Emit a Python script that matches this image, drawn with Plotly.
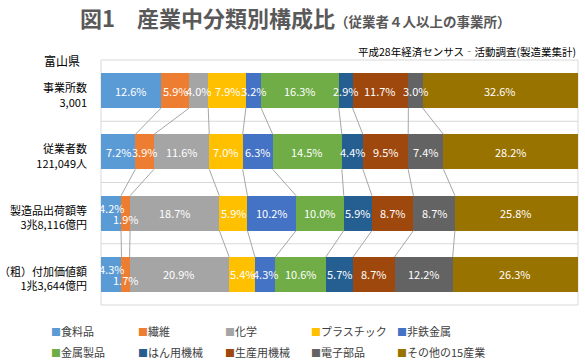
import plotly.graph_objects as go

categories = ["事業所数", "従業者数", "製造品出荷額等", "付加価値額"]
row_labels = [
    "事業所数<br>3,001",
    "従業者数<br>121,049人",
    "製造品出荷額等<br>3兆8,116億円",
    "（粗）付加価値額<br>1兆3,644億円",
]
series_names = ["食料品", "繊維", "化学", "プラスチック", "非鉄金属",
                "金属製品", "はん用機械", "生産用機械", "電子部品", "その他の15産業"]
colors = ["#5B9BD5", "#ED7D31", "#A5A5A5", "#FFC000", "#4472C4",
          "#70AD47", "#255E91", "#9E480E", "#636363", "#997300"]

shokuryo = [12.6, 7.2, 4.2, 4.3]
seni = [5.9, 3.9, 1.9, 1.7]
kagaku = [4.0, 11.6, 18.7, 20.9]
plastic = [7.9, 7.0, 5.9, 5.4]
hitetsu = [3.2, 6.3, 10.2, 4.3]
kinzoku = [16.3, 14.5, 10.0, 10.6]
hanyo = [2.9, 4.4, 5.9, 5.7]
seisan = [11.7, 9.5, 8.7, 8.7]
denshi = [3.0, 7.4, 8.7, 12.2]
sonota = [32.6, 28.2, 25.8, 26.3]

series_values = [shokuryo, seni, kagaku, plastic, hitetsu,
                 kinzoku, hanyo, seisan, denshi, sonota]

FONT = "Noto Sans CJK JP"
ypos = list(range(len(categories)))
BAR_W = 0.57

W, H = 585, 360
ML, MR, MT, MB = 101, 7, 60, 55
PW, PH = W - ML - MR, H - MT - MB


def px_x(px):
    return (px - ML) / PW


def px_y(py):
    return (H - MB - py) / PH


fig = go.Figure()
for i, (name, vals, col) in enumerate(zip(series_names, series_values, colors)):
    fig.add_trace(go.Bar(
        y=ypos, x=vals, name=name, orientation="h",
        marker=dict(color=col, line=dict(width=0)),
        width=BAR_W, showlegend=False,
        hoverinfo="skip",
    ))

# normalized cumulative positions (100% stacked)
totals = [sum(s[r] for s in series_values) for r in ypos]
cum = []
for r in ypos:
    c = 0
    row = []
    for s in series_values:
        start = c
        c += s[r] / totals[r] * 100
        row.append((start, c))
    cum.append(row)

# connector lines between rows
for r in range(len(categories) - 1):
    for k in range(len(series_values) - 1):
        fig.add_trace(go.Scatter(
            x=[cum[r][k][1], cum[r + 1][k][1]],
            y=[r + BAR_W / 2, r + 1 - BAR_W / 2],
            mode="lines", line=dict(color="#A6A6A6", width=1),
            showlegend=False, hoverinfo="skip",
        ))

# value labels
annotations = []
for r in ypos:
    for k, s in enumerate(series_values):
        a, b = cum[r][k]
        yshift = 0
        if k == 1 and r >= 2:
            yshift = -6
        if k == 0 and r >= 2:
            yshift = 5
        annotations.append(dict(
            x=(a + b) / 2, y=r, xref="x", yref="y",
            text=f"{s[r]:.1f}%", showarrow=False, yshift=yshift,
            font=dict(family=FONT, size=11, color="white"),
        ))

annotations += [
    dict(text="<b>図1　産業中分類別構成比</b><span style='font-size:13.5px'><b>（従業者４人以上の事業所）</b></span>",
         xref="paper", yref="paper", x=px_x(78), y=px_y(17),
         xanchor="left", yanchor="middle",
         showarrow=False, font=dict(family=FONT, size=22, color="#595959")),
    dict(text="平成28年経済センサス‐活動調査(製造業集計)", xref="paper", yref="paper",
         x=px_x(356), y=px_y(51), xanchor="left", yanchor="middle", showarrow=False,
         font=dict(family=FONT, size=10.5, color="#000000")),
    dict(text="富山県", xref="paper", yref="paper", x=px_x(62), y=px_y(60),
         xanchor="center", yanchor="middle", showarrow=False,
         font=dict(family=FONT, size=12, color="#000000")),
]

# legend (two rows of five)
leg_x = [49, 136, 223, 309, 395]
leg_y = [331, 352]
for i, (name, col) in enumerate(zip(series_names, colors)):
    annotations.append(dict(
        text=f"<span style='color:{col};font-size:10px'>■</span>{name}",
        xref="paper", yref="paper", x=px_x(leg_x[i % 5]), y=px_y(leg_y[i // 5]),
        xanchor="left", yanchor="middle", showarrow=False,
        font=dict(family=FONT, size=11, color="#404040"),
    ))

shapes = []
for yv in [0.5, 1.5, 2.5]:
    shapes.append(dict(type="line", xref="paper", yref="y", x0=0, x1=1, y0=yv, y1=yv,
                       line=dict(color="#D9D9D9", width=1), layer="below"))
shapes.append(dict(type="rect", xref="paper", yref="paper", x0=0, x1=1, y0=0, y1=1,
                   line=dict(color="#D9D9D9", width=1), layer="below"))

fig.update_layout(
    width=W, height=H,
    margin=dict(l=ML, r=MR, t=MT, b=MB),
    barmode="stack", barnorm="percent",
    plot_bgcolor="white", paper_bgcolor="white",
    showlegend=False,
    font=dict(family=FONT, size=11, color="#000000"),
    xaxis=dict(range=[0, 100], showticklabels=False, showgrid=False, zeroline=False,
               fixedrange=True, automargin=False),
    yaxis=dict(range=[3.5, -0.5], tickvals=[y + 0.08 for y in ypos], ticktext=row_labels,
               showgrid=False, zeroline=False, ticks="", ticklabelstandoff=13,
               automargin=False, fixedrange=True,
               tickfont=dict(family=FONT, size=11, color="#000000")),
    annotations=annotations,
    shapes=shapes,
)

fig.write_html("out.html", config={"displayModeBar": False},
               post_script="document.body.style.margin='0';document.body.style.overflow='hidden';")
